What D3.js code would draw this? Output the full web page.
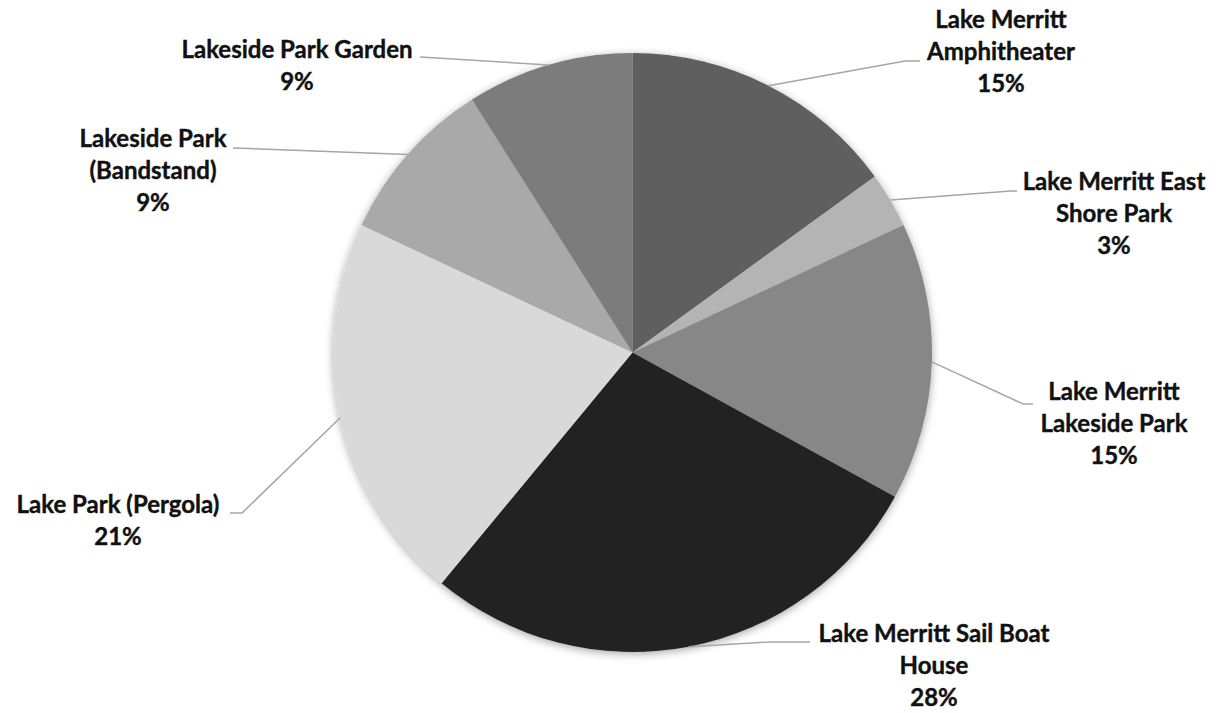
<!DOCTYPE html>
<html>
<head>
<meta charset="utf-8">
<script src="https://cdn.jsdelivr.net/npm/d3@7/dist/d3.min.js"></script>
<style>
  body { margin: 0; background: #fff; }
  svg { display: block; }
  .lbl { font-family: Lato, "Open Sans", sans-serif; font-weight: bold; fill: #111; stroke: #111; stroke-width: 0.4px; }
</style>
</head>
<body>
<svg id="chart"></svg>
<script>
var w = 1219;
var h = 713;

// data
var places = ["Lake Merritt Amphitheater", "Lake Merritt East Shore Park", "Lake Merritt Lakeside Park",
              "Lake Merritt Sail Boat House", "Lake Park (Pergola)", "Lakeside Park (Bandstand)", "Lakeside Park Garden"];
var percents = [15, 3, 15, 28, 21, 9, 9];
var labelLines = [["Lake Merritt", "Amphitheater"], ["Lake Merritt East", "Shore Park"], ["Lake Merritt", "Lakeside Park"],
                  ["Lake Merritt Sail Boat", "House"], ["Lake Park (Pergola)"], ["Lakeside Park", "(Bandstand)"], ["Lakeside Park Garden"]];
var greys = ["#5f5f5f", "#b4b4b4", "#878787", "#222222", "#d9d9d9", "#a9a9a9", "#7c7c7c"];

// layout of the data labels (center x, first baseline y) and leader line ends
var labelPos = [[1001, 28], [1114, 190], [1114, 400], [934, 642], [118, 513], [153, 147], [297, 58]];
var leaderEnd = [[905, 61, 920], [1011, 191, 1017], [1023, 404, 1033], [770, 642, 810], [242, 513, 230], [233, 148, 233], [420, 57, 420]];

var cx = 632.5, cy = 352.5, radius = 299.5;
var lineH = 32;
var fontSize = 24;

var svg = d3.select("#chart").attr("width", w).attr("height", h);

var defs = svg.append("defs");
var f = defs.append("filter").attr("id", "shadow")
    .attr("x", "-10%").attr("y", "-10%").attr("width", "120%").attr("height", "120%");
f.append("feDropShadow").attr("dx", 0).attr("dy", 2).attr("stdDeviation", 4)
    .attr("flood-color", "#000").attr("flood-opacity", 0.35);

var pie = d3.pie().sort(null).value(function(d){ return d; });
var arcs = pie(percents);
var arc = d3.arc().innerRadius(0).outerRadius(radius);

var g = svg.append("g").attr("transform", "translate(" + cx + "," + cy + ")");
g.append("g").attr("filter", "url(#shadow)")
  .selectAll("path").data(arcs).enter().append("path")
    .attr("d", arc)
    .attr("fill", function(d, i){ return greys[i]; });

// leader lines, from the middle of each slice's rim
arcs.forEach(function(d, i){
    var a = (d.startAngle + d.endAngle) / 2;
    var x0 = cx + radius * Math.sin(a);
    var y0 = cy - radius * Math.cos(a);
    var e = leaderEnd[i];
    svg.append("polyline")
       .attr("points", [[x0, y0], [e[0], e[1]], [e[2], e[1]]].map(function(p){ return p.join(","); }).join(" "))
       .attr("fill", "none")
       .attr("stroke", "#a6a6a6")
       .attr("stroke-width", 1.5);
});

// labels
arcs.forEach(function(d, i){
    var lines = labelLines[i].concat([percents[i] + "%"]);
    var t = svg.append("text").attr("class", "lbl")
        .attr("text-anchor", "middle")
        .attr("font-size", fontSize);
    lines.forEach(function(s, k){
        t.append("tspan").attr("x", labelPos[i][0]).attr("y", labelPos[i][1] + k * lineH).text(s);
    });
});
</script>
</body>
</html>
